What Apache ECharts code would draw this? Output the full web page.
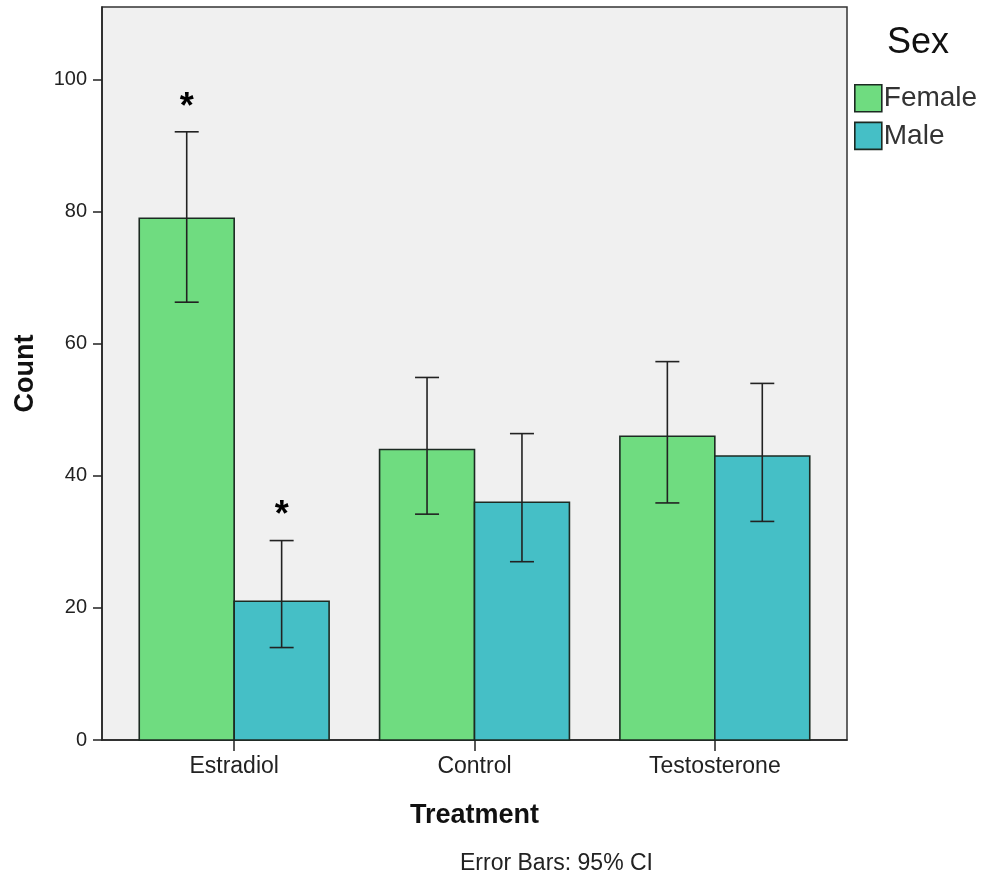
<!DOCTYPE html>
<html>
<head>
<meta charset="utf-8">
<script src="https://cdn.jsdelivr.net/npm/echarts@6/dist/echarts.min.js"></script>
<style>
  html, body { margin: 0; padding: 0; background: #ffffff; }
  #chart { width: 985px; height: 888px; }
</style>
</head>
<body>
<div id="chart"></div>
<script>
// Count by treatment and sex, with 95% confidence intervals
const treatments = ['Estradiol', 'Control', 'Testosterone'];
const femaleCount = [79, 44, 46];
const maleCount = [21, 36, 43];
const femaleLow = [66.3, 34.2, 35.9];
const femaleHigh = [92.1, 54.9, 57.3];
const maleLow = [14.0, 27.0, 33.1];
const maleHigh = [30.2, 46.4, 54.0];
// significance markers drawn above the interval
const femaleStar = [true, false, false];
const maleStar = [true, false, false];
const yTicks = [0, 20, 40, 60, 80, 100];

const FEMALE = '#6fdc80';
const MALE = '#45bfc6';
const EDGE = '#1c2a22';
const HALF = 0.395; // bar width in category units

function barRenderer(side, fill) {
  return function (params, api) {
    const x = api.value(0), v = api.value(1);
    const xa = side < 0 ? x - HALF : x;
    const xb = side < 0 ? x : x + HALF;
    const p0 = api.coord([xa, v]);
    const p1 = api.coord([xb, 0]);
    return {
      type: 'rect',
      shape: { x: p0[0], y: p0[1], width: p1[0] - p0[0], height: p1[1] - p0[1] },
      style: { fill: fill, stroke: EDGE, lineWidth: 1.6 }
    };
  };
}

function errRenderer(side) {
  return function (params, api) {
    const x = api.value(0) + side * HALF / 2;
    const lo = api.coord([x, api.value(1)]);
    const hi = api.coord([x, api.value(2)]);
    const cap = 12;
    const st = { stroke: '#222', lineWidth: 1.6 };
    const children = [
      { type: 'line', shape: { x1: lo[0], y1: lo[1], x2: hi[0], y2: hi[1] }, style: st },
      { type: 'line', shape: { x1: lo[0] - cap, y1: lo[1], x2: lo[0] + cap, y2: lo[1] }, style: st },
      { type: 'line', shape: { x1: hi[0] - cap, y1: hi[1], x2: hi[0] + cap, y2: hi[1] }, style: st }
    ];
    if (api.value(3)) {
      children.push({
        type: 'text',
        style: {
          text: '*', x: hi[0], y: hi[1] - 24,
          fill: '#000', font: 'bold 36px "Liberation Sans", Arial, sans-serif',
          align: 'center', verticalAlign: 'middle'
        }
      });
    }
    return { type: 'group', children: children };
  };
}

const femaleBars = femaleCount.map((v, i) => [i, v]);
const maleBars = maleCount.map((v, i) => [i, v]);
const femaleErr = femaleCount.map((v, i) => [i, femaleLow[i], femaleHigh[i], femaleStar[i] ? 1 : 0]);
const maleErr = maleCount.map((v, i) => [i, maleLow[i], maleHigh[i], maleStar[i] ? 1 : 0]);

const FONT = '"Liberation Sans", Arial, sans-serif';

const chart = echarts.init(document.getElementById('chart'));
chart.setOption({
  animation: false,
  backgroundColor: '#ffffff',
  title: {
    text: 'Sex', left: 882, top: 20,
    textStyle: { fontFamily: FONT, fontSize: 36, fontWeight: 'normal', color: '#111' }
  },
  legend: {
    orient: 'vertical', left: 849, top: 79, itemGap: 9,
    itemWidth: 27, itemHeight: 27, icon: 'rect',
    textStyle: { fontFamily: FONT, fontSize: 28, color: '#333', padding: [0, 0, 0, -3] },
    data: [
      { name: 'Female', itemStyle: { color: FEMALE, borderColor: EDGE, borderWidth: 1.6 } },
      { name: 'Male', itemStyle: { color: MALE, borderColor: EDGE, borderWidth: 1.6 } }
    ]
  },
  grid: {
    left: 102, right: 138, top: 7, bottom: 148,
    show: true, backgroundColor: '#f0f0f0', borderColor: '#333', borderWidth: 1.5
  },
  xAxis: {
    type: 'value', min: -0.55, max: 2.55,
    name: 'Treatment', nameLocation: 'middle', nameGap: 62,
    nameTextStyle: { fontFamily: FONT, fontSize: 27, fontWeight: 'bold', color: '#111' },
    axisLine: { show: true, onZero: false, lineStyle: { color: '#222', width: 1.5 } },
    axisTick: { show: true, length: 11, customValues: [0, 1, 2], lineStyle: { color: '#222', width: 1.5 } },
    axisLabel: {
      customValues: [0, 1, 2], margin: 15,
      formatter: v => treatments[Math.round(v)],
      fontFamily: FONT, fontSize: 23, color: '#222'
    },
    splitLine: { show: false }
  },
  yAxis: {
    type: 'value', min: 0, max: 111,
    name: 'Count', nameLocation: 'middle', nameGap: 63, nameRotate: 90,
    nameTextStyle: { fontFamily: FONT, fontSize: 27, fontWeight: 'bold', color: '#111' },
    axisLine: { show: true, onZero: false, lineStyle: { color: '#222', width: 1.5 } },
    axisTick: { show: true, length: 9, customValues: yTicks, lineStyle: { color: '#222', width: 1.5 } },
    axisLabel: { customValues: yTicks, margin: 15, fontFamily: FONT, fontSize: 20, color: '#222' },
    splitLine: { show: false }
  },
  graphic: [{
    type: 'text', left: 460, top: 852,
    style: { text: 'Error Bars: 95% CI', font: '23px ' + FONT, fill: '#222' }
  }],
  series: [
    { name: 'Female', type: 'custom', renderItem: barRenderer(-1, FEMALE), data: femaleBars,
      itemStyle: { color: FEMALE }, encode: { x: 0, y: 1 } },
    { name: 'Male', type: 'custom', renderItem: barRenderer(1, MALE), data: maleBars,
      itemStyle: { color: MALE }, encode: { x: 0, y: 1 } },
    { name: 'Female CI', type: 'custom', renderItem: errRenderer(-1), data: femaleErr,
      encode: { x: 0, y: [1, 2] }, z: 5 },
    { name: 'Male CI', type: 'custom', renderItem: errRenderer(1), data: maleErr,
      encode: { x: 0, y: [1, 2] }, z: 5 }
  ]
});
</script>
</body>
</html>
